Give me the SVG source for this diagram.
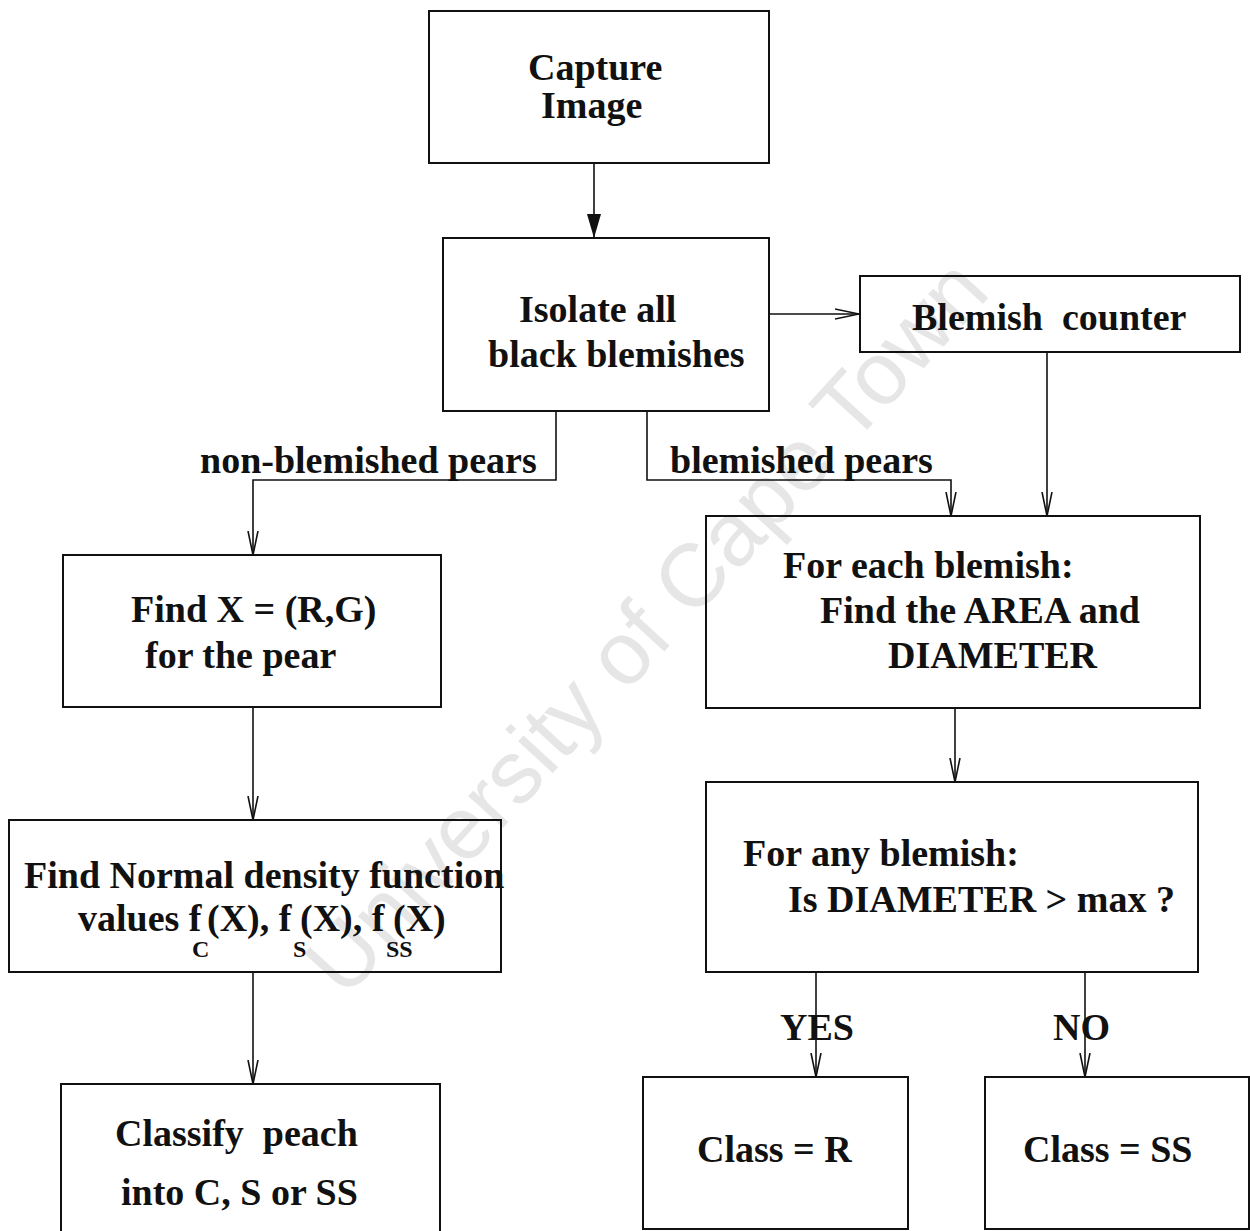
<svg xmlns="http://www.w3.org/2000/svg" width="1250" height="1231" viewBox="0 0 1250 1231">
  <style>
    .box { fill: none; stroke: #111; stroke-width: 2; }
    .t { font-family: "Liberation Serif", "Times New Roman", serif; font-weight: bold; font-size: 38px; fill: #111; }
    .sub { font-family: "Liberation Serif", "Times New Roman", serif; font-weight: bold; font-size: 24px; fill: #111; }
    .edge { fill: none; stroke: #111; stroke-width: 1.6; }
    .wm { font-family: "Liberation Sans", Arial, sans-serif; font-size: 89px; fill: #e6e6e6; }
  </style>
  <defs>
    <marker id="open" viewBox="0 0 24 12" refX="24" refY="6" markerWidth="24" markerHeight="12" markerUnits="userSpaceOnUse" orient="auto">
      <path d="M0,1 L24,6 L0,11" fill="none" stroke="#111" stroke-width="1.6"/>
    </marker>
    <marker id="solid" viewBox="0 0 24 14" refX="24" refY="7" markerWidth="24" markerHeight="14" markerUnits="userSpaceOnUse" orient="auto">
      <path d="M0,0 L24,7 L0,14 Z" fill="#111"/>
    </marker>
  </defs>
  <rect width="1250" height="1231" fill="#fff"/>

  <!-- background watermark -->
  <text class="wm" x="0" y="0" transform="translate(345,1000) rotate(-47.5)">University of Cape Town</text>

  <g id="connectors">
    <line class="edge" x1="594" y1="163" x2="594" y2="238" marker-end="url(#solid)"/>
    <line class="edge" x1="769" y1="314" x2="859" y2="314" marker-end="url(#open)"/>
    <line class="edge" x1="1047" y1="352" x2="1047" y2="516" marker-end="url(#open)"/>
    <polyline class="edge" points="556,411 556,480 253,480 253,555" marker-end="url(#open)"/>
    <polyline class="edge" points="647,411 647,480 951,480 951,516" marker-end="url(#open)"/>
    <line class="edge" x1="253" y1="707" x2="253" y2="820" marker-end="url(#open)"/>
    <line class="edge" x1="253" y1="972" x2="253" y2="1084" marker-end="url(#open)"/>
    <line class="edge" x1="955" y1="708" x2="955" y2="782" marker-end="url(#open)"/>
    <line class="edge" x1="816" y1="972" x2="816" y2="1077" marker-end="url(#open)"/>
    <line class="edge" x1="1085" y1="972" x2="1085" y2="1077" marker-end="url(#open)"/>
    <text class="t" x="200" y="473">non-blemished pears</text>
    <text class="t" x="670" y="473">blemished pears</text>
    <text class="t" x="780" y="1040">YES</text>
    <text class="t" x="1053" y="1040">NO</text>
  </g>

  <g id="capture">
    <rect class="box" x="429" y="11" width="340" height="152"/>
    <text class="t" x="528" y="80">Capture</text>
    <text class="t" x="541" y="118">Image</text>
  </g>

  <g id="isolate">
    <rect class="box" x="443" y="238" width="326" height="173"/>
    <text class="t" x="519" y="322">Isolate all</text>
    <text class="t" x="488" y="367">black blemishes</text>
  </g>

  <g id="counter">
    <rect class="box" x="860" y="276" width="380" height="76"/>
    <text class="t" x="912" y="330" xml:space="preserve">Blemish  counter</text>
  </g>

  <g id="find-x">
    <rect class="box" x="63" y="555" width="378" height="152"/>
    <text class="t" x="131" y="622">Find X = (R,G)</text>
    <text class="t" x="145" y="668">for the pear</text>
  </g>

  <g id="density">
    <rect class="box" x="9" y="820" width="492" height="152"/>
    <text class="t" x="24" y="888">Find Normal density function</text>
    <text class="t" x="78" y="931">values f</text>
    <text class="sub" x="192" y="957">C</text>
    <text class="t" x="207" y="931">(X), f</text>
    <text class="sub" x="293" y="957">S</text>
    <text class="t" x="300" y="931">(X), f</text>
    <text class="sub" x="386" y="957">SS</text>
    <text class="t" x="393" y="931">(X)</text>
  </g>

  <g id="classify">
    <rect class="box" x="61" y="1084" width="379" height="170"/>
    <text class="t" x="115" y="1146" xml:space="preserve">Classify  peach</text>
    <text class="t" x="121" y="1205">into C, S or SS</text>
  </g>

  <g id="each-blemish">
    <rect class="box" x="706" y="516" width="494" height="192"/>
    <text class="t" x="783" y="578">For each blemish:</text>
    <text class="t" x="820" y="623">Find the AREA and</text>
    <text class="t" x="888" y="668">DIAMETER</text>
  </g>

  <g id="any-blemish">
    <rect class="box" x="706" y="782" width="492" height="190"/>
    <text class="t" x="743" y="866">For any blemish:</text>
    <text class="t" x="788" y="912">Is DIAMETER &gt; max ?</text>
  </g>

  <g id="class-r">
    <rect class="box" x="643" y="1077" width="265" height="152"/>
    <text class="t" x="697" y="1162">Class = R</text>
  </g>

  <g id="class-ss">
    <rect class="box" x="985" y="1077" width="264" height="152"/>
    <text class="t" x="1023" y="1162">Class = SS</text>
  </g>
</svg>
